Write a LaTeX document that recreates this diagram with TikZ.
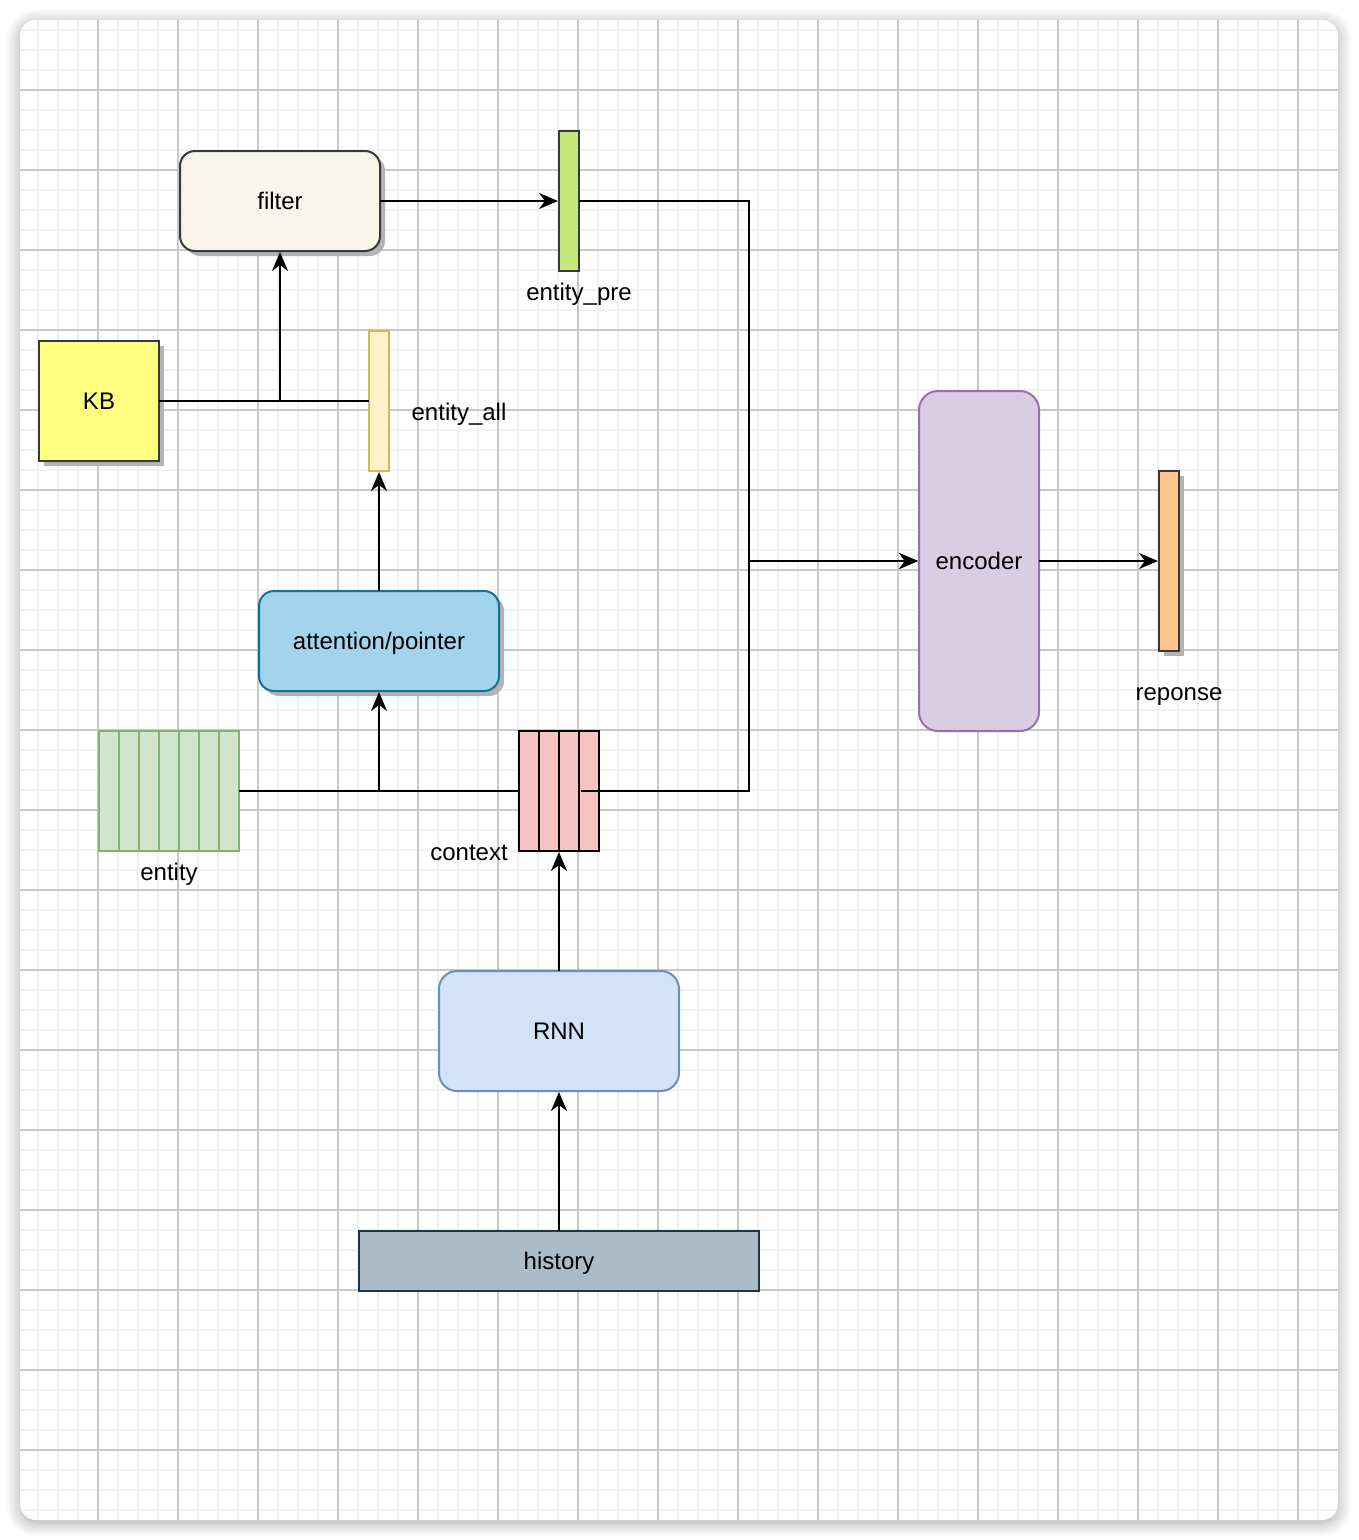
\documentclass[tikz,border=0pt]{standalone}
\usepackage{fontspec}
\setmainfont{Liberation Sans}
\usetikzlibrary{arrows.meta,shadows,shadows.blur}
\definecolor{gridminor}{HTML}{F2F2F2}
\definecolor{gridmajor}{HTML}{C8C8C8}
\definecolor{darkstroke}{HTML}{36393D}
\definecolor{filterfill}{HTML}{F8F6EA}
\definecolor{prefill}{HTML}{C6E77C}
\definecolor{kbfill}{HTML}{FFFF80}
\definecolor{allfill}{HTML}{FFF1C8}
\definecolor{allstroke}{HTML}{D6B656}
\definecolor{attfill}{HTML}{A4D4EC}
\definecolor{attstroke}{HTML}{10739E}
\definecolor{entfill}{HTML}{D0E5CE}
\definecolor{entstroke}{HTML}{82B366}
\definecolor{ctxfill}{HTML}{F5C4C2}
\definecolor{rnnfill}{HTML}{D3E3FA}
\definecolor{rnnstroke}{HTML}{6C8EBF}
\definecolor{histfill}{HTML}{ABBBC8}
\definecolor{histstroke}{HTML}{1E3448}
\definecolor{encfill}{HTML}{DACCE3}
\definecolor{encstroke}{HTML}{9673A6}
\definecolor{respfill}{HTML}{FFC58A}
\definecolor{shadowgray}{HTML}{B3B3B3}
\begin{document}
\begin{tikzpicture}[x=1pt,y=-1pt,
  txt/.style={font=\fontsize{24}{29}\selectfont, text height=21pt, text depth=5pt},
  lbl/.style={txt, inner sep=0pt},
  box/.style={draw, line width=2pt, anchor=north west, inner sep=0pt, outer sep=0pt, txt},
  shd/.style={drop shadow={shadow xshift=5pt, shadow yshift=-5pt, fill=shadowgray, opacity=1}},
  conn/.style={line width=2pt, draw=black, shorten >=1pt, -{Stealth[length=19pt,width=16pt,inset=6pt]}},
  plain/.style={line width=2pt, draw=black}
]
\useasboundingbox (0,0) rectangle (1358,1540);
% card with shadow
\path[fill=white, rounded corners=16pt,
  blur shadow={shadow xshift=0pt, shadow yshift=-3pt, shadow blur radius=14pt, shadow opacity=35, shadow blur steps=12}]
  (20,20) rectangle (1338,1520);
\begin{scope}
  \clip[rounded corners=16pt] (20,20) rectangle (1338,1520);
  \foreach \x in {38,58,...,1318} \draw[gridminor, line width=2pt] (\x,20) -- (\x,1520);
  \foreach \y in {30,50,...,1510} \draw[gridminor, line width=2pt] (20,\y) -- (1338,\y);
  \foreach \x in {98,178,...,1298} \draw[gridmajor, line width=1.2pt] (\x,20) -- (\x,1520);
  \foreach \y in {90,170,...,1450} \draw[gridmajor, line width=1.2pt] (20,\y) -- (1338,\y);
\end{scope}

% nodes
\node[box, shd, draw=darkstroke, fill=filterfill, rounded corners=15pt, minimum width=200pt, minimum height=100pt] (filter) at (180,151) {filter};
\node[box, draw=darkstroke, fill=prefill, minimum width=20pt, minimum height=140pt] (pre) at (559,131) {};
\node[lbl] (prelbl) at (579,292) {entity\_pre};
\node[box, shd, draw=darkstroke, fill=kbfill, minimum width=120pt, minimum height=120pt] (kb) at (39,341) {KB};
\node[box, draw=allstroke, fill=allfill, minimum width=20pt, minimum height=140pt] (all) at (369,331) {};
\node[lbl] (alllbl) at (459,412) {entity\_all};
\node[box, shd, draw=attstroke, fill=attfill, rounded corners=15pt, minimum width=240pt, minimum height=100pt] (att) at (259,591) {attention/pointer};
\node[box, draw=entstroke, fill=entfill, minimum width=140pt, minimum height=120pt] (ent) at (99,731) {};
\foreach \x in {119,139,...,219} \draw[entstroke, line width=2pt] (\x,731) -- (\x,851);
\node[lbl] (entlbl) at (169,872) {entity};
\node[box, draw=black, fill=ctxfill, minimum width=80pt, minimum height=120pt] (ctx) at (519,731) {};
\foreach \x in {539,559,579} \draw[black, line width=2pt] (\x,731) -- (\x,851);
\node[lbl] (ctxlbl) at (469,852) {context};
\node[box, draw=rnnstroke, fill=rnnfill, rounded corners=18pt, minimum width=240pt, minimum height=120pt] (rnn) at (439,971) {RNN};
\node[box, draw=histstroke, fill=histfill, minimum width=400pt, minimum height=60pt] (hist) at (359,1231) {history};
\node[box, draw=encstroke, fill=encfill, rounded corners=19pt, minimum width=120pt, minimum height=340pt] (enc) at (919,391) {encoder};
\node[box, shd, draw=darkstroke, fill=respfill, minimum width=20pt, minimum height=180pt] (resp) at (1159,471) {};
\node[lbl] (resplbl) at (1179,692) {reponse};

% junction coordinates
\coordinate (bus) at ([xshift=-170pt]enc.west);
\coordinate (ctxout) at ([xshift=-18pt]ctx.east);

% connectors
\draw[conn] (filter.east) -- (pre.west);
\draw[conn] (pre.east) -| (bus) -- (enc.west);
\draw[conn] (ctxout) -| (bus) -- (enc.west);
\draw[plain] (kb.east) -- (all.west);
\draw[conn] (kb.east -| filter.south) -- (filter.south);
\draw[conn] (att.north) -- (all.south);
\draw[plain] (ent.east) -- (ctx.west);
\draw[conn] (ent.east -| att.south) -- (att.south);
\draw[conn] (rnn.north) -- (ctx.south);
\draw[conn] (hist.north) -- (rnn.south);
\draw[conn] (enc.east) -- (resp.west);
\end{tikzpicture}
\end{document}
